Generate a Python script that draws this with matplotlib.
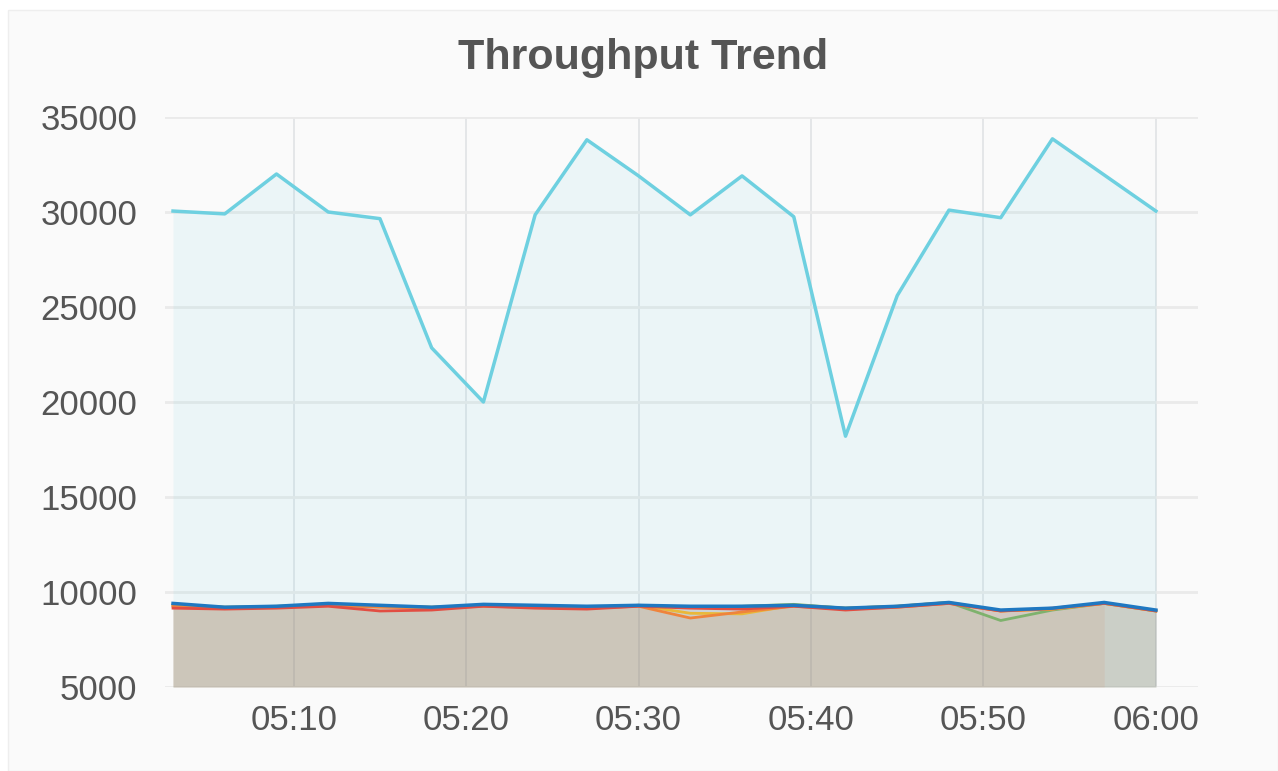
import matplotlib
matplotlib.use("Agg")
import matplotlib.pyplot as plt
from matplotlib.patches import Rectangle

plt.rcParams['font.family'] = ['Liberation Sans', 'DejaVu Sans']

times = ["05:03", "05:06", "05:09", "05:12", "05:15", "05:18", "05:21", "05:24", "05:27", "05:30",
         "05:33", "05:36", "05:39", "05:42", "05:45", "05:48", "05:51", "05:54", "05:57", "06:00"]

green = [9300, 9200, 9250, 9350, 9250, 9200, 9300, 9250, 9200, 9300,
         9200, 9250, 9350, 9150, 9250, 9450, 8500, 9050, 9400, 9000]
yellow = [9300, 9200, 9200, 9300, 9250, 9200, 9300, 9250, 9200, 9300,
          8880, 8850, 9300, 9150, 9250, 9450, 9000, 9100, 9400, 9000]
total = [30050, 29900, 32000, 30000, 29650, 22850, 20000, 29850, 33800, 31900,
         29850, 31900, 29750, 18200, 25600, 30100, 29700, 33850, 31950, 30050]
orange = [9250, 9150, 9200, 9300, 9200, 9150, 9250, 9200, 9150, 9250,
          8630, 8950, 9250, 9100, 9200, 9400, 9000, 9100, 9400]
red = [9150, 9100, 9150, 9250, 9000, 9050, 9250, 9150, 9100, 9250,
       9150, 9100, 9250, 9050, 9200, 9400, 9000, 9150, 9400, 9000]
blue = [9400, 9200, 9250, 9400, 9300, 9200, 9350, 9300, 9250, 9300,
        9250, 9250, 9300, 9150, 9250, 9450, 9050, 9150, 9450, 9050]

tick_labels = ["05:10", "05:20", "05:30", "05:40", "05:50", "06:00"]
y_ticks = [5000, 10000, 15000, 20000, 25000, 30000, 35000]


def to_min(s):
    h, m = s.split(":")
    return int(h) * 60 + int(m)


x = [to_min(t) for t in times]
xt = [to_min(t) for t in tick_labels]

fig = plt.figure(figsize=(12.78, 7.71), dpi=100)
fig.patch.set_facecolor("white")
fig.patches.append(Rectangle((8 / 1278, 0), 1 - 8 / 1278, 1 - 10 / 771, transform=fig.transFigure,
                             facecolor="#fafafa", edgecolor="#eeeeee", lw=1, zorder=-10))

ax = fig.add_axes([165 / 1278, (771 - 687) / 771, (1198 - 165) / 1278, (687 - 117) / 771])
ax.set_zorder(5)
ax.set_facecolor("none")

base = 5000
series = [(green, "#7eb26d", 2), (yellow, "#eab839", 2), (total, "#6ed0e0", 2.5),
          (orange, "#ef843c", 2), (red, "#e24d42", 2), (blue, "#1f78c1", 2.5)]
for vals, c, lw in series:
    xx = x[:len(vals)]
    ax.fill_between(xx, vals, base, color=c, alpha=0.1, lw=0)
for vals, c, lw in series:
    xx = x[:len(vals)]
    ax.plot(xx, vals, color=c, lw=lw)

ax.set_xlim(to_min("05:03") - 8 / 17.2, to_min("06:00") + 42 / 17.2)
ax.set_ylim(5000, 35000)
ax.set_yticks(y_ticks)
ax.set_yticklabels([str(v) for v in y_ticks])
ax.set_xticks(xt)
ax.set_xticklabels(tick_labels)
ax.tick_params(length=0, labelsize=25, colors="#555555", pad=12)
ax.tick_params(axis="y", pad=20)
for s in ax.spines.values():
    s.set_visible(False)
ax.grid(axis="y", color="#eaeaea", lw=2)
ax.grid(axis="x", color="#e0e3e5", lw=1.2)
ax.set_axisbelow(True)

fig.text(0.503, 1 - 58 / 771, "Throughput Trend", ha="center", va="center",
         fontsize=31, fontweight="bold", color="#555555")

fig.savefig("out.png", dpi=100, facecolor=fig.get_facecolor())
